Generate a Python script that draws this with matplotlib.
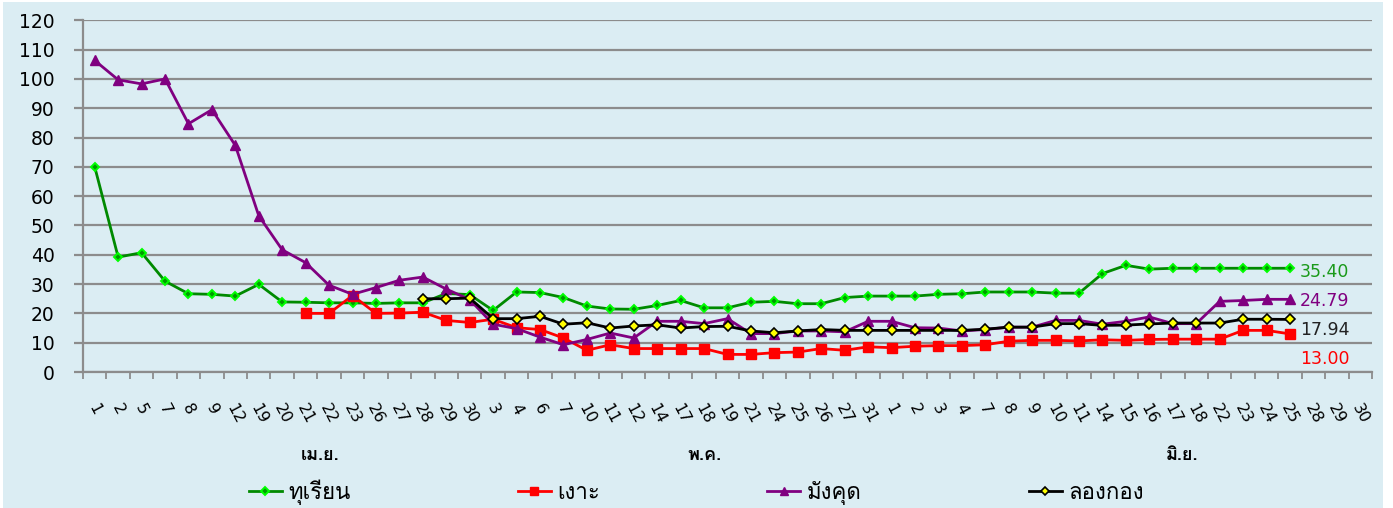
import numpy as np
import matplotlib
matplotlib.use("Agg")
import matplotlib.pyplot as plt
from matplotlib import font_manager
from matplotlib.ft2font import FT2Font
from matplotlib.patches import Rectangle

# x categories (day of month), april / may / june
days_apr = ["1", "2", "5", "7", "8", "9", "12", "19", "20", "21", "22", "23", "26", "27", "28", "29", "30"]
days_may = ["3", "4", "6", "7", "10", "11", "12", "14", "17", "18", "19", "21", "24", "25", "26", "27", "31"]
days_jun = ["1", "2", "3", "4", "7", "8", "9", "10", "11", "14", "15", "16", "17", "18", "22", "23", "24", "25", "28", "29", "30"]
months = ["เม.ย.", "พ.ค.", "มิ.ย."]

durian = [70, 39.2, 40.7, 31.0, 26.7, 26.5, 25.9, 29.9, 23.9, 23.8,
          23.6, 23.6, 23.4, 23.6, 23.6, 26.8, 26.4, 21.0, 27.3, 27.1,
          25.4, 22.5, 21.5, 21.4, 22.7, 24.4, 21.9, 21.9, 23.8, 24.1,
          23.3, 23.3, 25.4, 25.9, 25.9, 25.9, 26.5, 26.7, 27.3, 27.3,
          27.3, 26.9, 26.9, 33.6, 36.4, 35.1, 35.4, 35.4, 35.4, 35.4,
          35.4, 35.40]
rambutan = [None] * 9 + [
          20.0, 20.0, 26.1, 20.0, 20.1, 20.4, 17.6, 16.9, 18.0, 15.1,
          14.5, 11.6, 7.4, 9.3, 8.0, 8.0, 8.0, 8.0, 6.0, 6.0,
          6.6, 6.8, 8.0, 7.4, 8.6, 8.3, 8.8, 9.0, 9.0, 9.3,
          10.5, 10.8, 10.8, 10.6, 11.0, 10.8, 11.1, 11.2, 11.2, 11.2,
          14.2, 14.2, 13.00]
mangosteen = [106.3, 99.7, 98.3, 100.0, 84.7, 89.5, 77.3, 53.3, 41.7, 37.3,
              29.6, 26.5, 28.8, 31.3, 32.4, 28.3, 24.7, 16.3, 14.8, 11.9,
              9.3, 11.1, 13.3, 11.6, 17.3, 17.3, 16.5, 18.2, 13.1, 13.1,
              14.0, 14.0, 13.7, 17.3, 17.3, 15.1, 15.0, 14.0, 14.5, 15.3,
              15.3, 17.6, 17.6, 16.3, 17.3, 18.8, 16.5, 16.5, 24.1, 24.4,
              24.8, 24.79]
longkong = [None] * 14 + [
            25.0, 25.0, 25.2, 18.2, 18.2, 19.0, 16.3, 16.8, 15.0, 15.7,
            16.1, 15.0, 15.5, 15.6, 14.0, 13.4, 14.0, 14.5, 14.2, 14.2,
            14.2, 14.2, 14.2, 14.2, 14.6, 15.3, 15.3, 16.5, 16.5, 15.9,
            16.0, 16.4, 16.7, 16.7, 16.7, 18.0, 18.0, 17.94]
names = ["ทุเรียน", "เงาะ", "มังคุด", "ลองกอง"]


def find_thai_font():
    for f in font_manager.fontManager.ttflist:
        try:
            if ord("ท") in FT2Font(f.fname).get_charmap():
                return f.name
        except Exception:
            pass
    return "DejaVu Sans"


thai = find_thai_font()
plt.rcParams["font.family"] = ["DejaVu Sans", thai]

labels = days_apr + days_may + days_jun
n = len(labels)
x = np.arange(n)


def pad(vals):
    v = [np.nan if a is None else a for a in vals]
    return np.array(v + [np.nan] * (n - len(v)), dtype=float)


fig = plt.figure(figsize=(13.93, 5.08), dpi=100)
fig.patch.set_facecolor("white")
fig.patches.append(Rectangle((3 / 1393, 0), 1380 / 1393, 506 / 508, transform=fig.transFigure,
                             facecolor="#dbedf3", edgecolor="none", zorder=-10))
ax = fig.add_axes([83 / 1393, 1 - 372 / 508, 1289 / 1393, 351.7 / 508])
ax.set_facecolor("none")

l1, = ax.plot(x, pad(durian), color="#008a00", lw=2, marker="D", ms=4.5,
              mfc="#009900", mec="#00ff00", mew=1.4, label=names[0], zorder=3)
l2, = ax.plot(x, pad(rambutan), color="#ff0000", lw=2, marker="s", ms=7,
              mfc="#ff0000", mec="#ff0000", label=names[1], zorder=4)
l3, = ax.plot(x, pad(mangosteen), color="#800080", lw=2, marker="^", ms=7,
              mfc="#800080", mec="#800080", label=names[2], zorder=5)
l4, = ax.plot(x, pad(longkong), color="black", lw=2, marker="D", ms=5,
              mfc="#ffff00", mec="black", mew=1.2, label=names[3], zorder=6)

ax.set_xlim(-0.5, n - 0.5)
ax.set_ylim(0, 120)
ax.set_yticks(range(0, 121, 10))
ax.grid(axis="y", color="#8c8c8c", lw=1.6)
ax.set_axisbelow(True)
for s in ["top", "right"]:
    ax.spines[s].set_visible(False)
for s in ["left", "bottom"]:
    ax.spines[s].set_color("#8c8c8c")
    ax.spines[s].set_linewidth(1.6)
ax.tick_params(axis="y", length=6.5, width=1.6, color="#8c8c8c", labelsize=13.5, pad=14)

ax.set_xticks(x)
ax.set_xticklabels(labels, rotation=-62, ha="center", va="top", fontsize=11.5)
ax.tick_params(axis="x", which="major", length=0, pad=21)
ax.set_xticks(np.arange(-0.5, n, 1), minor=True)
ax.tick_params(axis="x", which="minor", length=5, width=1.3, color="#8c8c8c")

for pos, m in zip([9.6, 26.0, 46.4], months):
    ax.text(pos, -0.236, m, transform=ax.get_xaxis_transform(), ha="center", va="center",
            fontsize=13, fontweight="bold", family=[thai, "DejaVu Sans"])

# end-of-series value labels
ends = [(durian, "#1a9a1a", -3), (mangosteen, "#800080", -1.5), (longkong, "#222222", -7.5), (rambutan, "#ff0000", -18)]
for vals, col, dy in ends:
    last = len(vals) - 1
    ax.annotate(f"{vals[last]:.2f}", (last, vals[last]), xytext=(7, dy), textcoords="offset points",
                ha="left", va="center", color=col, fontsize=12.5)

fig.legend(handles=[l1, l2, l3, l4], loc="center", bbox_to_anchor=(0.5, 1 - 492 / 508), ncol=4,
           frameon=False, prop={"family": [thai, "DejaVu Sans"], "size": 16},
           handlelength=1.5, handletextpad=0.3, columnspacing=7.5, markerscale=0.8)

fig.savefig("out.png", dpi=100)
